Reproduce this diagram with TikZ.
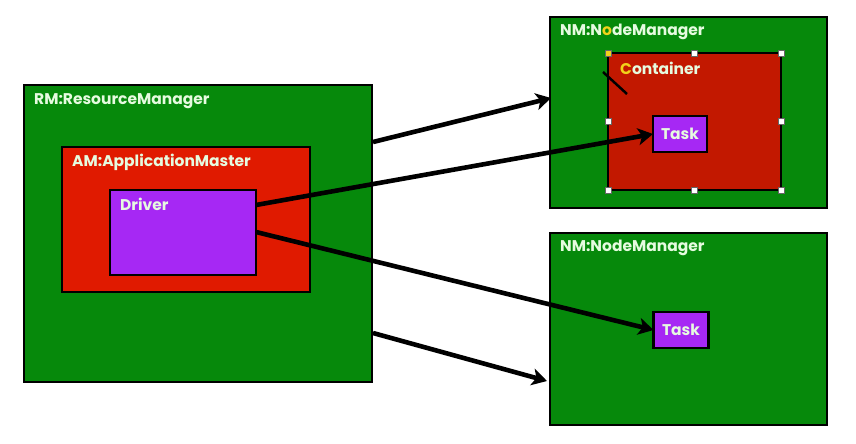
\documentclass[tikz,border=0pt]{standalone}
\usepackage{fontspec}
\setmainfont{Poppins}
\usetikzlibrary{arrows.meta}
\definecolor{boxgreen}{HTML}{06890B}
\definecolor{amred}{HTML}{E01A00}
\definecolor{conred}{HTML}{C21800}
\definecolor{taskpurple}{HTML}{A628F4}
\definecolor{labeltext}{HTML}{E6FBE0}
\definecolor{hlyellow}{HTML}{F2D21A}
\begin{document}
\begin{tikzpicture}[x=1pt,y=-1pt,
  boxstyle/.style={draw=black,line width=2.4pt,inner sep=0pt,outer sep=0pt},
  lbl/.style={anchor=north west,inner sep=0pt,text=labeltext,font=\fontsize{15.5}{16}\selectfont\bfseries},
  arr/.style={line width=4.6pt,-{Stealth[length=15pt,width=17pt,inset=4pt]}},
  handle/.style={draw=black!60,fill=white,line width=0.4pt,minimum size=5.5pt,inner sep=0pt}]
\useasboundingbox (0,0) rectangle (856,444);
% RM
\draw[boxstyle,fill=boxgreen] (24,85) rectangle (372,382);
\coordinate (rm1) at (373,142);
\coordinate (rm2) at (373,333);
\node[lbl] (rml) at (34,93) {RM:ResourceManager};
% AM
\draw[boxstyle,fill=amred] (62,147) rectangle (310,292);
\node[lbl] (aml) at (72,154) {AM:ApplicationMaster};
% Driver
\draw[boxstyle,fill=taskpurple] (110,190) rectangle (256,275);
\coordinate (dr1) at (256,205);
\coordinate (dr2) at (256,232);
\node[lbl] (drl) at (120,198) {Driver};
% NM1
\draw[boxstyle,fill=boxgreen] (550,17) rectangle (827,208);
\coordinate (nm1) at (551,98);
\node[lbl] (nm1l) at (560,24) {NM:N\textcolor{hlyellow}{o}deManager};
% Container
\draw[boxstyle,fill=conred] (608,53) rectangle (781,190);
\node[lbl] (conl) at (620,62) {\textcolor{hlyellow}{C}ontainer};
\draw[line width=2.5pt] (603,72) -- (627,94);
\foreach \p in {(608,53),(694,53),(781,53),(608,121),(781,121),(608,190),(694,190),(781,190)}
  \node[handle] at \p {};
\node[handle,fill=hlyellow] at (608,53) {};
% Task1
\node[boxstyle,fill=taskpurple,minimum width=54pt,minimum height=36pt,text=labeltext,font=\fontsize{15.5}{16}\selectfont\bfseries] (t1) at (680,134) {Task};
% NM2
\draw[boxstyle,fill=boxgreen] (550,233) rectangle (827,425);
\coordinate (nm2) at (547,381);
\node[lbl] (nm2l) at (560,240) {NM:NodeManager};
% Task2
\node[boxstyle,fill=taskpurple,minimum width=55pt,minimum height=36pt,text=labeltext,font=\fontsize{15.5}{16}\selectfont\bfseries] (t2) at (681,330) {Task};
% arrows
\draw[arr] (rm1) -- (nm1);
\draw[arr] (dr1) -- (t1.west);
\draw[arr] (dr2) -- (t2.west);
\draw[arr] (rm2) -- (nm2);
\end{tikzpicture}
\end{document}
